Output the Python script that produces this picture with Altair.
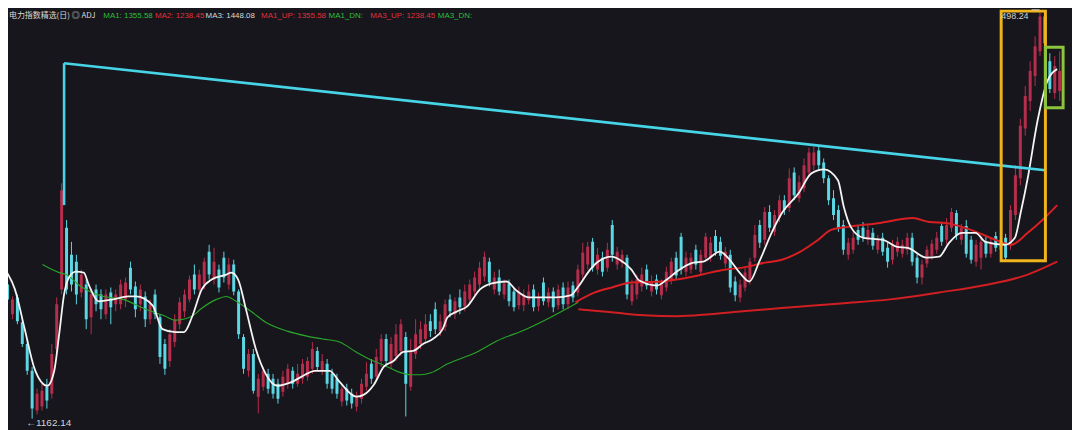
import altair as alt
import pandas as pd

# ---------------- candle data (daily index) ----------------
opens = [1272.4, 1248.0, 1261.8, 1241.4, 1223.5, 1201.5, 1168.8, 1172.1, 1188.4, 1182.7,
         1219.4, 1268.4, 1319.0, 1296.9, 1291.2, 1265.9, 1272.4, 1245.5, 1268.4, 1264.3,
         1248.0, 1265.9, 1256.1, 1256.1, 1260.2, 1286.3, 1270.8, 1256.1, 1262.6, 1243.9,
         1264.3, 1245.5, 1223.5, 1209.6, 1225.1, 1239.8, 1250.4, 1260.2, 1280.6, 1268.4,
         1272.4, 1299.4, 1276.5, 1284.7, 1294.5, 1272.4, 1288.8, 1266.7, 1229.2, 1201.5,
         1215.3, 1180.2, 1188.4, 1199.0, 1194.9, 1190.8, 1184.3, 1190.8, 1201.5, 1190.8,
         1194.9, 1196.6, 1203.1, 1217.8, 1201.5, 1207.2, 1199.0, 1194.9, 1176.2, 1186.8,
         1182.7, 1172.1, 1178.6, 1188.4, 1207.2, 1196.6, 1209.6, 1227.6, 1207.2, 1213.7,
         1217.8, 1229.2, 1188.4, 1215.3, 1223.5, 1227.6, 1242.3, 1252.0, 1234.1, 1237.4,
         1260.2, 1248.0, 1261.8, 1254.5, 1260.2, 1266.7, 1272.4, 1279.0, 1291.2, 1268.4,
         1278.2, 1264.3, 1273.3, 1266.7, 1255.3, 1255.3, 1259.4, 1268.4, 1254.5, 1274.1,
         1257.8, 1266.7, 1255.3, 1270.0, 1256.1, 1271.6, 1265.9, 1280.6, 1288.8, 1307.5,
         1284.7, 1294.5, 1286.3, 1321.4, 1288.8, 1290.4, 1294.5, 1258.6, 1264.3, 1270.8,
         1284.7, 1266.7, 1276.5, 1263.5, 1270.0, 1276.5, 1294.5, 1311.6, 1283.0, 1284.7,
         1301.0, 1283.0, 1294.5, 1294.5, 1312.4, 1307.5, 1289.6, 1296.9, 1274.9, 1261.8,
         1270.0, 1276.5, 1294.5, 1321.4, 1309.2, 1332.0, 1315.7, 1327.1, 1341.8, 1335.3,
         1364.6, 1343.4, 1351.6, 1364.6, 1370.4, 1382.6, 1372.8, 1359.8, 1343.4, 1333.6,
         1321.4, 1296.9, 1301.0, 1317.3, 1319.0, 1309.2, 1314.9, 1301.0, 1310.8, 1302.6,
         1292.8, 1299.4, 1297.7, 1301.0, 1310.8, 1294.5, 1278.2, 1289.6, 1296.1, 1301.0,
         1320.6, 1309.2, 1319.0, 1331.2, 1309.2, 1320.6, 1309.2, 1291.2, 1294.5, 1307.5,
         1297.7, 1312.4, 1301.0, 1310.8, 1305.1, 1329.6, 1359.8, 1400.6, 1423.4, 1443.8,
         1464.2, 1492.8, 1456.0, 1429.9, 1431.6]

closes = [1260.2, 1260.2, 1242.3, 1223.5, 1201.5, 1170.4, 1182.7, 1185.1, 1177.0, 1215.3,
          1256.1, 1350.0, 1268.4, 1272.4, 1264.3, 1280.6, 1243.9, 1264.3, 1256.1, 1252.0,
          1264.3, 1253.7, 1264.3, 1272.4, 1274.1, 1268.4, 1252.0, 1268.4, 1243.9, 1256.1,
          1248.0, 1212.9, 1203.1, 1231.6, 1243.9, 1257.8, 1264.3, 1276.5, 1268.4, 1280.6,
          1291.2, 1280.6, 1291.2, 1270.0, 1278.2, 1288.8, 1266.7, 1231.6, 1203.1, 1215.3,
          1185.1, 1194.9, 1201.5, 1186.8, 1182.7, 1178.6, 1196.6, 1203.1, 1190.8, 1199.0,
          1207.2, 1209.6, 1219.4, 1204.7, 1209.6, 1190.8, 1186.8, 1182.7, 1186.8, 1177.0,
          1174.5, 1180.2, 1190.8, 1199.0, 1194.9, 1212.9, 1227.6, 1209.6, 1223.5, 1231.6,
          1239.8, 1190.8, 1217.8, 1231.6, 1235.7, 1239.8, 1234.1, 1235.7, 1242.3, 1256.1,
          1250.4, 1258.6, 1253.7, 1266.7, 1272.4, 1278.2, 1286.3, 1295.3, 1274.1, 1278.2,
          1266.7, 1273.3, 1258.6, 1253.7, 1266.7, 1263.5, 1266.7, 1253.7, 1261.8, 1258.6,
          1265.9, 1253.7, 1268.4, 1256.1, 1270.0, 1261.8, 1284.7, 1298.6, 1303.4, 1286.3,
          1296.9, 1283.0, 1301.0, 1296.9, 1299.4, 1296.9, 1264.3, 1272.4, 1276.5, 1280.6,
          1271.6, 1274.9, 1268.4, 1273.3, 1283.0, 1291.2, 1279.8, 1284.7, 1294.5, 1294.5,
          1288.8, 1296.9, 1311.6, 1306.7, 1299.4, 1296.1, 1299.4, 1270.0, 1263.5, 1272.4,
          1282.2, 1291.2, 1313.2, 1306.7, 1332.0, 1319.0, 1329.6, 1341.8, 1333.6, 1359.8,
          1345.9, 1356.5, 1370.4, 1381.0, 1381.0, 1370.4, 1359.8, 1341.8, 1329.6, 1319.0,
          1301.0, 1306.7, 1310.8, 1309.2, 1310.8, 1317.3, 1304.3, 1309.2, 1299.4, 1291.2,
          1304.3, 1307.5, 1305.1, 1310.8, 1291.2, 1278.2, 1288.8, 1301.0, 1305.9, 1310.8,
          1307.5, 1321.4, 1332.0, 1313.2, 1319.0, 1297.7, 1292.8, 1305.1, 1307.5, 1297.7,
          1307.5, 1302.6, 1309.2, 1294.5, 1333.6, 1362.2, 1403.0, 1427.5, 1447.9, 1468.3,
          1492.8, 1470.7, 1433.2, 1452.0, 1447.9]

highs = [1276.5, 1262.6, 1264.3, 1245.5, 1227.6, 1204.7, 1186.8, 1190.8, 1194.9, 1223.5,
         1261.8, 1355.7, 1325.5, 1307.5, 1296.9, 1284.7, 1276.5, 1268.4, 1272.4, 1268.4,
         1268.4, 1270.0, 1268.4, 1276.5, 1278.2, 1291.2, 1274.9, 1272.4, 1266.7, 1260.2,
         1268.4, 1248.0, 1227.6, 1235.7, 1248.0, 1261.8, 1268.4, 1279.8, 1288.8, 1284.7,
         1294.5, 1305.1, 1302.6, 1288.8, 1299.4, 1294.5, 1292.8, 1268.4, 1231.6, 1219.4,
         1219.4, 1199.0, 1204.7, 1203.1, 1199.0, 1194.9, 1201.5, 1207.2, 1204.7, 1207.2,
         1211.2, 1212.9, 1225.1, 1221.0, 1215.3, 1211.2, 1203.1, 1199.0, 1190.8, 1190.8,
         1186.8, 1184.3, 1194.9, 1208.8, 1211.2, 1219.4, 1231.6, 1231.6, 1229.2, 1239.8,
         1243.9, 1233.3, 1227.6, 1243.9, 1242.3, 1248.0, 1248.0, 1257.8, 1248.0, 1260.2,
         1264.3, 1261.8, 1268.4, 1272.4, 1276.5, 1283.0, 1291.2, 1299.4, 1294.5, 1283.0,
         1284.7, 1276.5, 1276.5, 1270.0, 1270.8, 1268.4, 1272.4, 1272.4, 1265.9, 1278.2,
         1270.0, 1270.0, 1272.4, 1274.1, 1274.9, 1274.9, 1288.8, 1306.7, 1307.5, 1310.8,
         1302.6, 1299.4, 1306.7, 1325.5, 1303.4, 1301.0, 1296.9, 1276.5, 1280.6, 1286.3,
         1288.8, 1279.8, 1280.6, 1276.5, 1287.1, 1294.5, 1299.4, 1314.9, 1299.4, 1298.6,
         1305.1, 1301.0, 1314.9, 1311.6, 1317.3, 1311.6, 1303.4, 1301.0, 1279.0, 1276.5,
         1286.3, 1294.5, 1321.4, 1325.5, 1336.1, 1337.7, 1333.6, 1345.9, 1345.9, 1367.9,
         1368.7, 1362.2, 1376.1, 1385.0, 1385.9, 1385.9, 1376.1, 1362.2, 1350.0, 1337.7,
         1325.5, 1310.8, 1315.7, 1321.4, 1323.8, 1321.4, 1319.0, 1313.2, 1314.9, 1306.7,
         1309.2, 1311.6, 1309.2, 1314.9, 1314.9, 1296.9, 1292.8, 1304.3, 1309.2, 1315.7,
         1323.8, 1327.1, 1335.3, 1333.6, 1322.2, 1325.5, 1312.4, 1309.2, 1311.6, 1311.6,
         1310.8, 1315.7, 1313.2, 1314.1, 1337.7, 1370.4, 1408.7, 1435.6, 1456.0, 1476.4,
         1498.24, 1496.8, 1462.6, 1460.1, 1464.2]

lows = [1256.1, 1243.9, 1239.8, 1221.0, 1198.2, 1162.14, 1165.5, 1168.8, 1170.4, 1178.6,
        1215.3, 1264.3, 1264.3, 1266.7, 1256.1, 1261.8, 1235.7, 1231.6, 1250.4, 1243.9,
        1243.9, 1239.8, 1250.4, 1252.0, 1253.7, 1264.3, 1245.5, 1250.4, 1237.4, 1239.8,
        1243.9, 1207.2, 1198.2, 1204.7, 1221.0, 1235.7, 1245.5, 1257.8, 1264.3, 1264.3,
        1268.4, 1276.5, 1272.4, 1265.9, 1274.1, 1268.4, 1263.5, 1227.6, 1199.0, 1196.6,
        1182.7, 1166.4, 1185.1, 1182.7, 1178.6, 1174.5, 1180.2, 1186.8, 1186.8, 1188.4,
        1190.8, 1193.3, 1199.0, 1201.5, 1198.2, 1186.8, 1182.7, 1178.6, 1172.1, 1172.9,
        1170.4, 1168.0, 1174.5, 1185.1, 1190.8, 1193.3, 1204.7, 1204.7, 1203.1, 1209.6,
        1213.7, 1163.9, 1185.1, 1211.2, 1219.4, 1225.1, 1229.2, 1231.6, 1230.0, 1234.1,
        1245.5, 1243.9, 1248.0, 1250.4, 1256.1, 1263.5, 1268.4, 1274.9, 1270.8, 1264.3,
        1263.5, 1260.2, 1254.5, 1250.4, 1252.0, 1250.4, 1256.1, 1250.4, 1250.4, 1255.3,
        1253.7, 1249.6, 1252.0, 1252.0, 1252.0, 1257.8, 1262.6, 1276.5, 1284.7, 1283.0,
        1280.6, 1279.0, 1283.0, 1291.2, 1284.7, 1286.3, 1260.2, 1255.3, 1260.2, 1266.7,
        1268.4, 1262.6, 1264.3, 1260.2, 1266.7, 1272.4, 1276.5, 1280.6, 1279.0, 1281.4,
        1284.7, 1279.8, 1291.2, 1291.2, 1296.1, 1292.8, 1286.3, 1265.9, 1258.6, 1257.8,
        1266.7, 1272.4, 1291.2, 1302.6, 1305.1, 1315.7, 1312.4, 1323.8, 1329.6, 1332.0,
        1341.8, 1340.2, 1348.3, 1361.4, 1366.3, 1366.3, 1355.7, 1337.7, 1325.5, 1315.7,
        1296.9, 1292.8, 1297.7, 1305.1, 1307.5, 1305.1, 1301.0, 1297.7, 1296.1, 1286.3,
        1288.8, 1295.3, 1294.5, 1296.9, 1287.9, 1273.3, 1272.4, 1286.3, 1292.8, 1297.7,
        1304.3, 1305.9, 1315.7, 1309.2, 1305.1, 1294.5, 1289.6, 1287.1, 1284.7, 1294.5,
        1294.5, 1299.4, 1297.7, 1292.0, 1301.0, 1325.5, 1354.0, 1394.8, 1415.2, 1435.6,
        1460.1, 1465.8, 1429.9, 1425.0, 1423.4]

# ---------------- moving-average curves ----------------
white_x = [-0.5, 1.5, 3.5, 5.5, 8.1, 9.5, 10.5, 11.5, 12.5, 13.9, 15.5, 16.5, 18.5, 21.5, 24.5, 26.1,
           29.5, 31.5, 34.1, 35.9, 37.5, 39.5, 41.5, 44.5, 45.5, 46.9, 48.5, 50.5, 52.5, 54.9, 57.5,
           60.5, 62.5, 65.5, 67.5, 70.9, 72.5, 74.5, 76.5, 78.5, 80.5, 82.5, 84.5, 86.5, 88.5, 89.5,
           91.5, 93.5, 96.1, 98.5, 101.5, 103.5, 106.1, 111.5, 114.5, 116.1, 118.5, 120.1, 122.9,
           124.5, 126.9, 128.5, 132.1, 134.1, 136.1, 139.5, 141.5, 144.9, 146.5, 148.9, 150.9, 152.9,
           155.5, 157.5, 160.9, 163.5, 166.1, 168.9, 170.1, 171.5, 174.1, 178.1, 180.9, 183.1, 186.9,
           189.5, 191.5, 194.1, 196.9, 198.9, 202.9, 204.9, 206.1, 207.5, 209.5, 211.5, 213.5]
white_v = [1284.7, 1268.4, 1235.7, 1203.1, 1189.2, 1201.5, 1231.6, 1264.3, 1278.2, 1283.0, 1282.2,
           1272.4, 1258.6, 1260.2, 1262.6, 1262.6, 1255.3, 1235.7, 1233.3, 1233.3, 1245.5, 1268.4,
           1276.5, 1280.6, 1282.2, 1276.5, 1252.0, 1219.4, 1199.0, 1189.2, 1191.7, 1198.2, 1201.5,
           1201.5, 1192.5, 1180.2, 1181.9, 1190.0, 1204.7, 1209.6, 1217.0, 1217.8, 1223.5, 1227.6,
           1235.7, 1245.5, 1250.4, 1254.5, 1268.4, 1273.3, 1274.9, 1267.5, 1261.8, 1261.8, 1263.5,
           1270.8, 1284.7, 1291.2, 1295.3, 1292.8, 1284.7, 1275.7, 1271.6, 1276.5, 1283.0, 1290.4,
           1291.2, 1299.4, 1294.5, 1282.2, 1274.9, 1291.2, 1315.7, 1331.2, 1347.5, 1363.8, 1367.1,
           1358.1, 1336.1, 1319.8, 1310.8, 1309.2, 1303.4, 1302.6, 1294.5, 1295.3, 1306.7, 1314.9,
           1314.9, 1307.5, 1305.1, 1310.8, 1332.0, 1359.8, 1407.1, 1439.7, 1449.5]

green_x = [7.1, 10.5, 11.9, 14.9, 19.5, 23.5, 28.1, 32.1, 34.1, 37.5, 39.5, 42.5, 44.5, 46.5, 49.5,
           52.5, 56.9, 60.9, 64.1, 67.5, 70.9, 73.5, 76.9, 79.5, 82.1, 84.1, 86.1, 89.5, 95.5, 99.5,
           105.5, 110.5, 116.1]
green_v = [1288.8, 1282.2, 1280.6, 1270.8, 1262.6, 1260.2, 1252.0, 1246.3, 1243.1, 1246.3, 1252.9,
           1260.2, 1262.6, 1258.6, 1250.4, 1241.4, 1234.1, 1230.0, 1227.6, 1225.1, 1217.0, 1211.2,
           1205.5, 1200.6, 1198.2, 1198.2, 1199.8, 1207.2, 1217.0, 1225.9, 1235.7, 1245.5, 1257.8]

red_up_x = [115.5, 119.5, 122.9, 126.9, 132.9, 136.1, 139.5, 142.9, 146.1, 149.5, 154.1, 157.5, 160.9,
            164.9, 167.5, 170.9, 177.5, 184.1, 187.5, 190.9, 194.1, 197.5, 200.9, 204.1, 207.5, 210.5, 213.5]
red_up_v = [1257.8, 1265.9, 1270.0, 1274.1, 1274.9, 1276.5, 1279.0, 1282.2, 1284.7, 1286.3, 1290.4,
            1292.8, 1298.6, 1309.2, 1317.3, 1319.8, 1323.0, 1327.1, 1323.8, 1323.0, 1319.8, 1314.9,
            1309.2, 1305.1, 1314.9, 1325.5, 1337.7]

red_dn_x = [116.1, 122.9, 129.5, 136.1, 142.9, 149.5, 159.5, 169.5, 179.5, 189.5, 199.5, 207.5, 213.5]
red_dn_v = [1252.0, 1249.6, 1247.1, 1246.3, 1248.0, 1250.4, 1253.7, 1256.9, 1260.2, 1265.9, 1272.4,
            1280.6, 1291.2]

# hand-drawn trend line and boxes (index / price units)
trend_x = [11.5, 211.1]
trend_v = [1454.4, 1366.3]
trend_drop = [1454.4, 1337.7]
orange_box = [202.1, 211.1, 1292.0, 1497.2]
green_box = [211.1, 214.7, 1417.7, 1467.5]

header = [
    (0, "电力指数精选(日) ◎ ADJ", "#d8d8d8"),
    (95, "MA1: 1355.58", "#2fbf3a"),
    (147, "MA2: 1238.45", "#e0303a"),
    (198, "MA3: 1448.08", "#d8d8d8"),
    (254, "MA1_UP: 1355.58", "#e0303a"),
    (322, "MA1_DN:", "#2fbf3a"),
    (364, "MA3_UP: 1238.45", "#e0303a"),
    (432, "MA3_DN:", "#2fbf3a"),
]

# ---------------- styling ----------------
BG = "#16161c"
RED = "#b72d4c"
CYAN = "#5cd7e4"
TREND = "#47d4e6"

n = len(closes)
candles = pd.DataFrame({
    "idx": list(range(n)),
    "open": opens[:n], "close": closes[:n], "high": highs[:n], "low": lows[:n],
})

xs = alt.Scale(domain=[1.1, 215.5], nice=False, zero=False)
ys = alt.Scale(domain=[1154.1, 1498.47], nice=False, zero=False)

up_color = alt.when(alt.datum.close >= alt.datum.open).then(alt.value(RED)).otherwise(alt.value(CYAN))

wicks = alt.Chart(candles).mark_rule(strokeWidth=1, clip=True).encode(
    x=alt.X("idx:Q", scale=xs, axis=None),
    y=alt.Y("low:Q", scale=ys, axis=None),
    y2="high:Q",
    color=up_color,
)
bodies = alt.Chart(candles).mark_bar(size=3, clip=True).encode(
    x=alt.X("idx:Q", scale=xs, axis=None),
    y=alt.Y("open:Q", scale=ys, axis=None),
    y2="close:Q",
    color=up_color,
)


def curve(xv, yv, color, width, interp="monotone"):
    d = pd.DataFrame([{"i": a, "v": b} for a, b in zip(xv, yv)])
    return alt.Chart(d).mark_line(color=color, strokeWidth=width, interpolate=interp, clip=True).encode(
        x=alt.X("i:Q", scale=xs, axis=None),
        y=alt.Y("v:Q", scale=ys, axis=None),
        order="i:Q",
    )


green_line = curve(green_x, green_v, "#2aa52a", 1.1)
red_up_line = curve(red_up_x, red_up_v, "#d91f22", 2)
red_dn_line = curve(red_dn_x, red_dn_v, "#d01f22", 2)
white_line = curve(white_x, white_v, "#f4f4f4", 1.8)
trend_line = curve(trend_x, trend_v, TREND, 2.6, "linear")

drop_df = pd.DataFrame({"i": [trend_x[0]], "a": [trend_drop[0]], "b": [trend_drop[1]]})
drop_rule = alt.Chart(drop_df).mark_rule(color=TREND, strokeWidth=2.6).encode(
    x=alt.X("i:Q", scale=xs, axis=None),
    y=alt.Y("a:Q", scale=ys, axis=None),
    y2="b:Q",
)


def box(b, color, width):
    d = pd.DataFrame({"x0": [b[0]], "x1": [b[1]], "y0": [b[2]], "y1": [b[3]]})
    return alt.Chart(d).mark_rect(fillOpacity=0, stroke=color, strokeWidth=width).encode(
        x=alt.X("x0:Q", scale=xs, axis=None), x2="x1:Q",
        y=alt.Y("y0:Q", scale=ys, axis=None), y2="y1:Q",
    )


orange = box(orange_box, "#f0b41c", 3)
greenb = box(green_box, "#8cc43c", 3)

hi_df = pd.DataFrame({"i": [209.9], "i2": [208.3], "v": [1498.24], "t": ["498.24"]})
hi_text = alt.Chart(hi_df).mark_text(
    align="right", baseline="middle", dx=-11, dy=6, fontSize=9, color="#cfcfcf", font="Liberation Sans"
).encode(x=alt.X("i:Q", scale=xs, axis=None), y=alt.Y("v:Q", scale=ys, axis=None), text="t:N")
hi_rule = alt.Chart(hi_df).mark_rule(color="#cfcfcf", strokeWidth=1).encode(
    x=alt.X("i2:Q", scale=xs, axis=None), x2="i:Q", y=alt.Y("v:Q", scale=ys, axis=None)
)

lo_df = pd.DataFrame({"i": [5.0], "v": [1162.14], "t": ["←1162.14"]})
lo_text = alt.Chart(lo_df).mark_text(
    align="left", baseline="middle", dx=-6, dy=4, fontSize=10, color="#d4d4d4", font="Liberation Sans"
).encode(x=alt.X("i:Q", scale=xs, axis=None), y=alt.Y("v:Q", scale=ys, axis=None), text="t:N")

head_layers = []
for px, txt, col in header:
    hd = pd.DataFrame({"t": [txt]})
    fnt = "Noto Sans CJK SC" if px == 0 else "Liberation Sans"
    head_layers.append(
        alt.Chart(hd).mark_text(
            align="left", baseline="alphabetic", fontSize=8, color=col, font=fnt
        ).encode(x=alt.value(px + 1), y=alt.value(8), text="t:N")
    )

chart = alt.layer(
    wicks, bodies, green_line, red_dn_line, red_up_line, white_line,
    trend_line, drop_rule, orange, greenb, hi_rule, hi_text, lo_text, *head_layers
).properties(
    width=1072, height=422,
    padding=0,
    autosize=alt.AutoSizeParams(type="none"),
    background=BG,
).configure_view(stroke=None)

chart.save("out.html", embed_options={"renderer": "svg", "actions": False})
